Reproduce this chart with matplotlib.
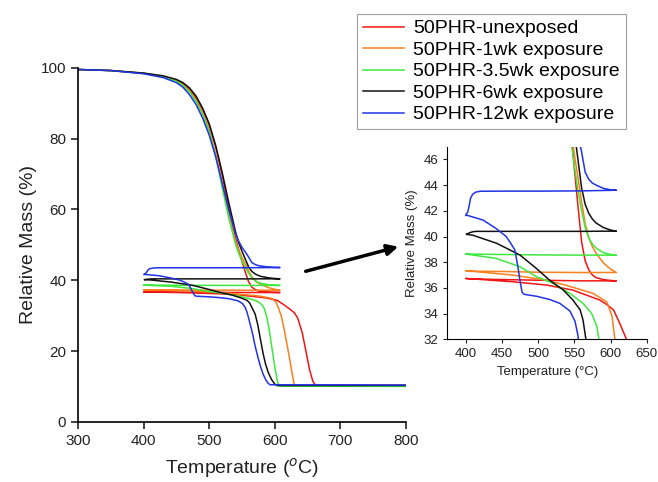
import matplotlib
matplotlib.use("Agg")
import matplotlib.pyplot as plt

plt.rcParams['font.family'] = ['Liberation Sans', 'DejaVu Sans']

# each trace: heat 300->608, cool back to 400, heat again to 800
labels = ['50PHR-unexposed', '50PHR-1wk exposure', '50PHR-3.5wk exposure',
          '50PHR-6wk exposure', '50PHR-12wk exposure']
colors = ['#f21515', '#f7801f', '#3ee83e', '#111111', '#2233e6']

heat1_t = [300, 350, 400, 430, 450, 460, 470, 480, 490, 500, 510, 520, 530, 540, 545,
           550, 555, 560, 565, 570, 575, 580, 590, 600, 608]

red_m1 = [99.5, 99.2, 98.4, 97.5, 96.4, 95.5, 93.9, 91.5, 88.2, 83.8, 77.5, 69.5, 60.5, 52.0, 48.6,
          45.3, 42.4, 39.6, 38.1, 37.4, 37.0, 36.8, 36.65, 36.58, 36.55]
orange_m1 = [99.5, 99.2, 98.4, 97.5, 96.3, 95.2, 93.5, 90.9, 87.3, 82.5, 75.5, 67.0, 58.5, 51.0, 48.6,
             46.4, 44.6, 42.7, 41.0, 39.9, 39.2, 38.7, 37.95, 37.45, 37.2]
green_m1 = [99.5, 99.2, 98.4, 97.4, 96.2, 95.0, 93.2, 90.5, 86.8, 82.0, 75.0, 66.0, 57.5, 50.3, 47.6,
            45.5, 43.6, 42.0, 40.7, 39.9, 39.4, 39.1, 38.75, 38.6, 38.55]
black_m1 = [99.5, 99.2, 98.5, 97.7, 96.7, 95.8, 94.3, 92.0, 88.6, 84.2, 78.0, 70.3, 61.8, 53.8, 50.6,
            48.2, 46.0, 43.8, 42.5, 41.8, 41.35, 41.05, 40.7, 40.5, 40.42]
blue_m1 = [99.5, 99.2, 98.3, 97.2, 95.8, 94.5, 92.4, 89.6, 85.8, 81.0, 74.8, 67.3, 59.8, 53.3, 51.0,
           49.3, 48.0, 46.6, 45.0, 44.45, 44.15, 44.0, 43.75, 43.63, 43.6]

# cooling + second heating, per series
red_t2 = [560, 500, 450, 410, 402,
          400, 465, 512, 548, 585, 595, 604, 613, 622, 630, 635, 642, 648, 653, 658, 662, 665, 800]
red_m2 = [36.55, 36.6, 36.65, 36.7, 36.72,
          36.74, 36.48, 36.22, 35.83, 35.06, 34.7, 34.3, 33.2, 32.0, 30.8, 29.3, 25.1, 19.5, 14.8, 11.5, 10.4, 10.3, 10.3]

orange_t2 = [560, 500, 450, 410, 402,
             400, 465, 512, 539, 576, 595, 602, 606, 610, 614, 618, 622, 626, 629, 631, 800]
orange_m2 = [37.2, 37.22, 37.28, 37.3, 37.32,
             37.34, 37.0, 36.6, 36.2, 35.57, 34.9, 33.8, 32.0, 29.8, 26.5, 22.5, 18.5, 14.2, 11.0, 10.3, 10.3]

green_t2 = [560, 500, 450, 410, 402,
            400, 442, 475, 498, 521, 544, 562, 574, 581, 584, 588, 592, 596, 600, 604, 607, 800]
green_m2 = [38.55, 38.57, 38.6, 38.63, 38.65,
            38.64, 38.3, 37.65, 36.87, 36.35, 35.57, 34.8, 34.0, 33.0, 32.0, 29.5, 25.5, 20.5, 15.5, 11.5, 10.1, 10.05]

black_t2 = [560, 500, 450, 415, 410, 406, 402,
            401, 410, 443, 475, 498, 516, 535, 548, 558, 562, 566, 570, 574, 578, 582, 586, 590,
            595, 600, 603, 800]
black_m2 = [40.4, 40.4, 40.4, 40.4, 40.37, 40.3, 40.2,
            40.17, 40.1, 39.47, 38.56, 37.5, 36.6, 35.83, 35.06, 34.3, 33.5, 32.0, 30.5, 27.5, 23.5,
            19.5, 16.3, 14.0, 12.0, 10.7, 10.3, 10.3]

blue_t2 = [560, 500, 450, 420, 414, 410, 407, 405, 403, 401, 400.5,
           401, 424, 442, 456, 462, 468, 472, 475, 478, 481, 498, 516, 530, 544, 551, 555, 558,
           562, 566, 570, 574, 578, 582, 586, 590, 593, 800]
blue_m2 = [43.55, 43.53, 43.53, 43.52, 43.45, 43.3, 43.0, 42.4, 41.9, 41.75, 41.62,
           41.67, 41.28, 40.63, 40.0, 39.5, 38.95, 37.7, 36.6, 35.65, 35.5, 35.35, 35.1, 34.8, 34.2,
           33.4, 32.3, 30.8, 28.0, 25.0, 21.5, 18.5, 15.8, 13.6, 12.0, 10.9, 10.5, 10.45]

traces = [
    (heat1_t + red_t2, red_m1 + red_m2),
    (heat1_t + orange_t2, orange_m1 + orange_m2),
    (heat1_t + green_t2, green_m1 + green_m2),
    (heat1_t + black_t2, black_m1 + black_m2),
    (heat1_t + blue_t2, blue_m1 + blue_m2),
]

fig = plt.figure(figsize=(6.58, 4.82), dpi=100)

# main plot
ax = fig.add_axes([0.1185, 0.1245, 0.4985, 0.735])
for (t, m), c, lab in zip(traces, colors, labels):
    ax.plot(t, m, color=c, lw=1.1, label=lab)
ax.set_xlim(300, 800)
ax.set_ylim(0, 100)
ax.set_xticks(range(300, 801, 100))
ax.set_yticks(range(0, 101, 20))
for s in ['top', 'right']:
    ax.spines[s].set_visible(False)
ax.spines['left'].set_linewidth(1.2)
ax.spines['bottom'].set_linewidth(1.2)
ax.tick_params(direction='out', length=5, width=1.2, labelsize=11, colors='#222222')
ax.set_xlabel('Temperature ($^{o}$C)', fontsize=14, color='#222222', labelpad=6)
ax.set_ylabel('Relative Mass (%)', fontsize=14, color='#222222', labelpad=3)

# zoomed inset
ins = fig.add_axes([0.680, 0.296, 0.303, 0.400])
for (t, m), c in zip(traces, colors):
    ins.plot(t, m, color=c, lw=1.1)
ins.set_xlim(375, 650)
ins.set_ylim(32, 47)
ins.set_xticks(range(400, 651, 50))
ins.set_yticks(range(32, 47, 2))
for s in ['top', 'right']:
    ins.spines[s].set_visible(False)
ins.tick_params(direction='out', length=3, labelsize=9.5, colors='#222222')
ins.set_xlabel('Temperature (°C)', fontsize=9.5, color='#222222')
ins.set_ylabel('Relative Mass (%)', fontsize=9.5, color='#222222')

# legend in upper right of the figure
handles, labs = ax.get_legend_handles_labels()
leg = fig.legend(handles, labs, loc='upper left', bbox_to_anchor=(357 / 658, 1 - 14 / 482),
                 fontsize=14, frameon=True, fancybox=False, handlelength=2.1,
                 labelspacing=0.2, borderpad=0.3, handletextpad=0.5, borderaxespad=0)
leg.get_frame().set_edgecolor('#888888')
leg.get_frame().set_linewidth(0.8)

# arrow from main plateau to inset
fig.add_artist(matplotlib.patches.FancyArrowPatch(
    (303 / 658, 1 - 272 / 482), (401 / 658, 1 - 246 / 482),
    transform=fig.transFigure, arrowstyle='-|>', mutation_scale=16,
    lw=2.5, color='black'))

fig.savefig('out.png', dpi=100)
